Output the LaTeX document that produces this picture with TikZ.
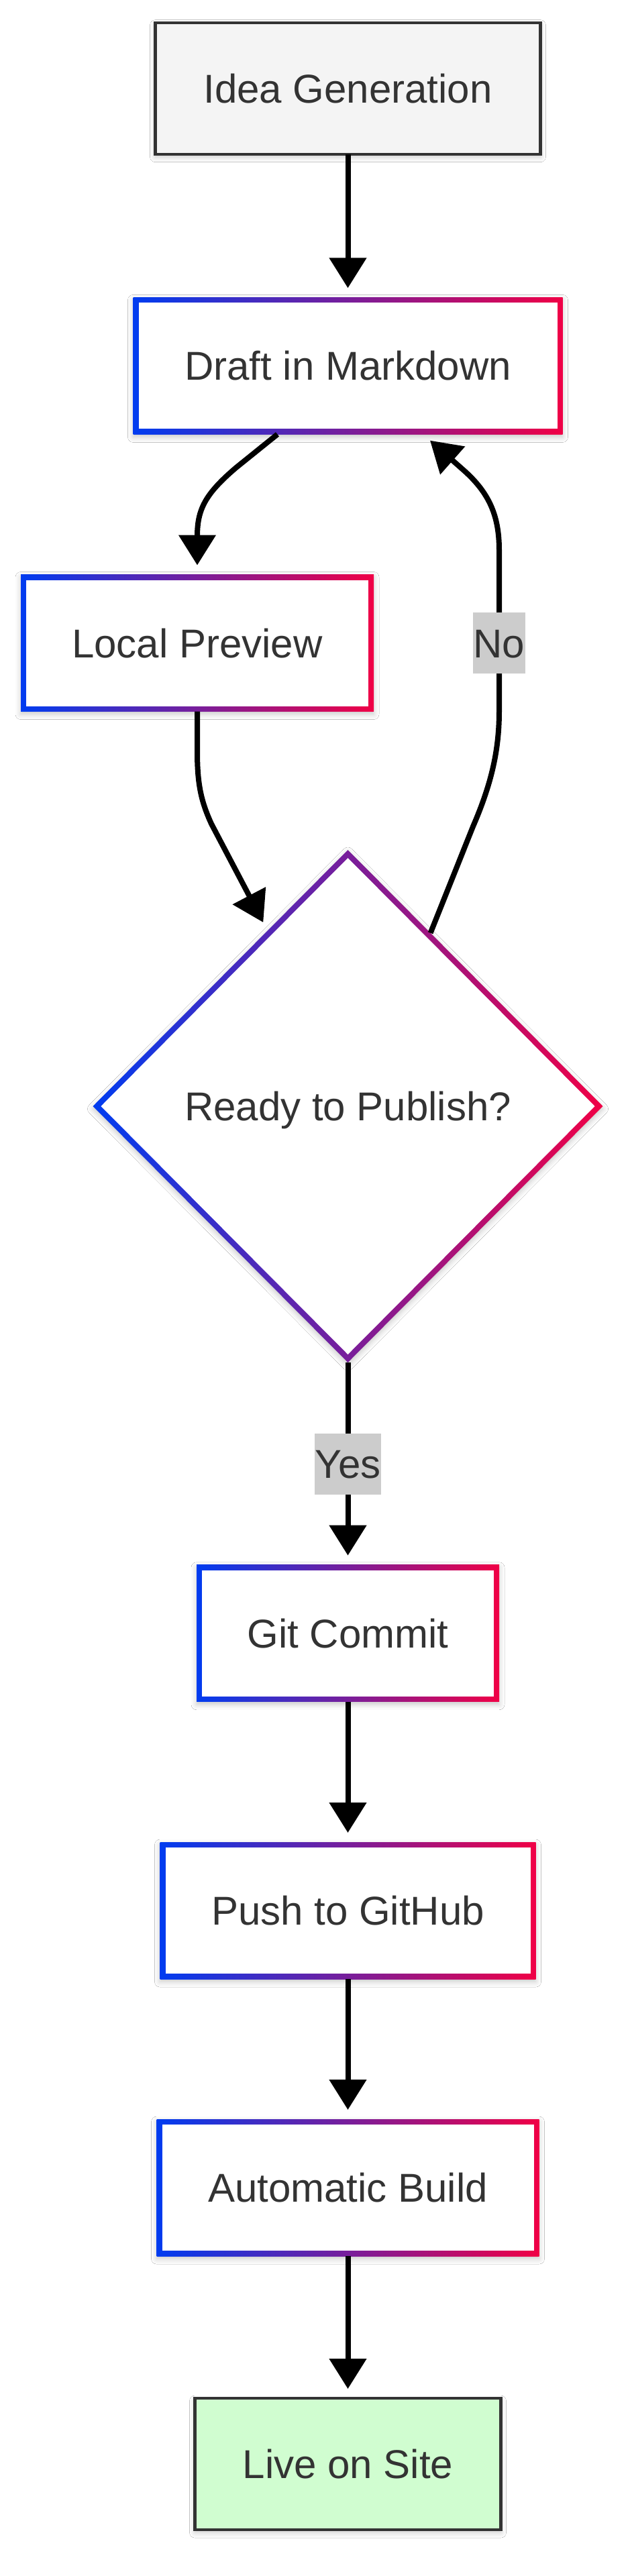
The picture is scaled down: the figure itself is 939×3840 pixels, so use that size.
\documentclass[tikz,border=0pt]{standalone}
\usepackage{fontspec}
\setmainfont{Liberation Sans}
\usetikzlibrary{arrows.meta,shapes.geometric,backgrounds,calc,shadows.blur}
\definecolor{gblue}{RGB}{0,60,240}
\definecolor{gred}{RGB}{240,0,70}
\definecolor{txt}{RGB}{51,51,51}
\definecolor{lblbg}{RGB}{204,204,204}
\definecolor{ideafill}{RGB}{244,244,244}
\definecolor{livefill}{RGB}{208,253,208}
\tikzset{
  softshadow/.style={blur shadow={shadow xshift=0pt,shadow yshift=-4pt,shadow blur radius=8pt,shadow opacity=22}},
  lbl/.style={font=\fontsize{60pt}{72pt}\selectfont, text=txt, text height=43pt, text depth=0pt},
  procbox/.style={lbl, rectangle, inner sep=0pt, outer sep=0pt, minimum height=204pt},
  plainbox/.style={lbl, rectangle, inner sep=0pt, outer sep=0pt, minimum height=196pt, draw=txt, line width=4.3pt, softshadow},
  decibox/.style={lbl, diamond, inner sep=0pt, outer sep=0pt, minimum width=760pt, minimum height=764pt},
  edgelbl/.style={lbl, fill=lblbg, inner xsep=1pt, inner ysep=0pt, minimum height=91pt},
  flow/.style={draw=black, line width=8pt, -{Triangle[length=45pt,width=54pt]}, shorten >=14pt},
}
\newcommand\gradbox[1]{%
  \shade[softshadow, left color=gblue, right color=gred] (#1.south west) rectangle (#1.north east);
  \fill[white] ([shift={(8pt,8pt)}]#1.south west) rectangle ([shift={(-8pt,-8pt)}]#1.north east);}
\newcommand\graddiam[1]{%
  \shade[softshadow, left color=gblue, right color=gred] (#1.north) -- (#1.east) -- (#1.south) -- (#1.west) -- cycle;
  \fill[white] ([yshift=-12pt]#1.north) -- ([xshift=-12pt]#1.east) -- ([yshift=12pt]#1.south) -- ([xshift=12pt]#1.west) -- cycle;}
\begin{document}
\begin{tikzpicture}[x=1pt,y=-1pt]
\useasboundingbox (0,0) rectangle (939,3840);
% nodes
\node[plainbox, fill=ideafill, minimum width=574pt] (idea) at (518.5,131.7) {Idea Generation};
\node[procbox, minimum width=640pt] (draft) at (518.5,545.4) {Draft in Markdown};
\node[procbox, minimum width=526pt] (local) at (294,958.5) {Local Preview};
\node[decibox] (dec) at (518.5,1649) {Ready to Publish?};
\node[procbox, minimum width=451pt] (git) at (518.5,2434.7) {Git Commit};
\node[procbox, minimum width=560pt] (push) at (518.5,2848) {Push to GitHub};
\node[procbox, minimum width=570pt] (auto) at (518.5,3261) {Automatic Build};
\node[plainbox, fill=livefill, minimum width=456pt] (live) at (518.5,3673) {Live on Site};
\begin{scope}[on background layer]
  \fill[white] (0,0) rectangle (939,3840);
  \gradbox{draft}
  \gradbox{local}
  \graddiam{dec}
  \gradbox{git}
  \gradbox{push}
  \gradbox{auto}
\end{scope}
% edges
\draw[flow] (idea) -- (draft);
\draw[flow] ([xshift=-105pt]draft.south) -- (352,697) .. controls (305,737) and (294,760) .. (294,800) -- (local.north);
\draw[flow] (local.south) -- (294,1120) .. controls (294,1170) and (300,1195) .. (315,1228) -- ($(dec.north)!0.315!(dec.west)$);
\draw[flow] ($(dec.north)!0.324!(dec.east)$) -- (705,1232) .. controls (734,1165) and (744,1115) .. (744,1060) -- (744,820) .. controls (744,770) and (730,735) .. (690,700) -- ([xshift=112pt]draft.south);
\draw[flow] (dec) -- (git);
\draw[flow] (git) -- (push);
\draw[flow] (push) -- (auto);
\draw[flow] (auto) -- (live);
% edge labels
\node[edgelbl] (nolbl) at (744,958.5) {No};
\node[edgelbl] (yeslbl) at (518.5,2182) {Yes};
\end{tikzpicture}
\end{document}
